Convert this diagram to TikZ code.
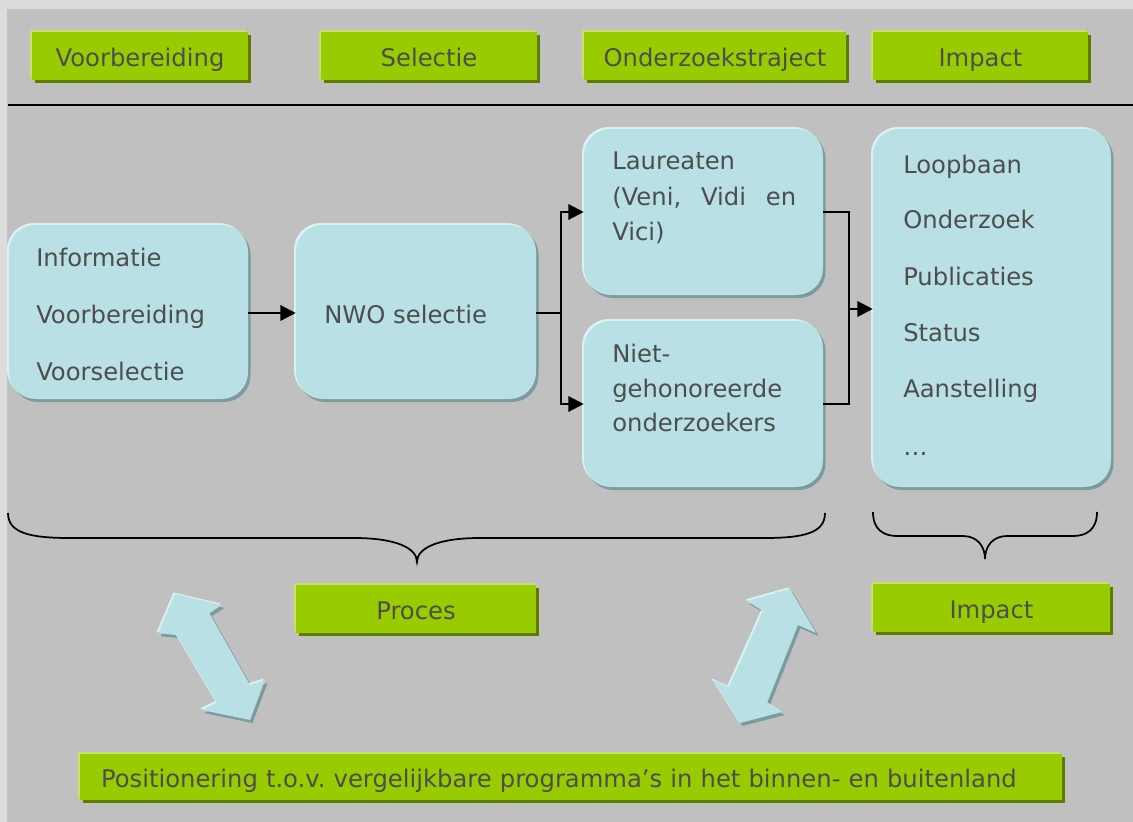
\documentclass[tikz,border=0pt]{standalone}
\usepackage{fontspec}
\setmainfont{DejaVu Sans}
\usetikzlibrary{arrows.meta}
\frenchspacing
\definecolor{bgout}{HTML}{DCDCDC}
\definecolor{bg}{HTML}{C0C0C0}
\definecolor{gmain}{HTML}{99CC00}
\definecolor{glight}{HTML}{C4E36E}
\definecolor{gdark}{HTML}{5E7C00}
\definecolor{cmain}{HTML}{B9E0E4}
\definecolor{clight}{HTML}{DAF1F3}
\definecolor{cdark}{HTML}{7B9B9F}
\definecolor{txt}{HTML}{4D4D4D}
\tikzset{
  x=0.75pt, y=-0.75pt,
  lbl/.style={font=\fontsize{18.2}{21}\selectfont, text=txt, inner sep=0pt},
  gbox/.style={lbl, fill=gmain, text height=16pt, text depth=0pt,
    preaction={fill=gdark, transform canvas={shift={(2.25pt,-2.25pt)}}},
    preaction={fill=glight, transform canvas={shift={(-1.5pt,1.5pt)}}}},
  cbox/.style={fill=cmain, rounded corners=20pt, inner sep=0pt,
    preaction={fill=cdark, transform canvas={shift={(1.9pt,-2.25pt)}}},
    preaction={fill=clight, transform canvas={shift={(-1.5pt,1.5pt)}}}},
  dshape/.style={fill=cmain,
    preaction={fill=cdark, transform canvas={shift={(1.9pt,-2.25pt)}}},
    preaction={fill=clight, transform canvas={shift={(-1.2pt,1.2pt)}}}},
  conn/.style={draw=black, line width=1.7pt},
  arr/.style={conn, -{Triangle[length=11.5pt,width=11.5pt]}},
  brace/.style={draw=black, line width=1.3pt},
}
\begin{document}
\begin{tikzpicture}
\useasboundingbox (0,0) rectangle (1133,822);
\fill[bgout] (0,0) rectangle (1133,822);
\fill[bg] (7,9) rectangle (1133,822);

% header boxes
\node[gbox, minimum width=216*0.75pt, minimum height=48*0.75pt] (h1) at (140,56) {Voorbereiding};
\node[gbox, minimum width=216*0.75pt, minimum height=48*0.75pt] (h2) at (429,56) {Selectie};
\node[gbox, minimum width=262*0.75pt, minimum height=48*0.75pt] (h3) at (715,56) {Onderzoekstraject};
\node[gbox, minimum width=215*0.75pt, minimum height=48*0.75pt] (h4) at (980.5,56) {Impact};
\draw[line width=1.6pt] (8,105) -- (1133,105);

% process boxes
\node[cbox, minimum width=239*0.75pt, minimum height=174*0.75pt] (A) at (128.5,312) {};
\node[cbox, minimum width=240*0.75pt, minimum height=174*0.75pt] (B) at (416,312) {};
\node[cbox, minimum width=239*0.75pt, minimum height=166*0.75pt] (C) at (703.5,212) {};
\node[cbox, minimum width=239*0.75pt, minimum height=166*0.75pt] (D) at (703.5,404) {};
\node[cbox, minimum width=238*0.75pt, minimum height=358*0.75pt] (E) at (992,308) {};

% texts
\node[lbl, anchor=base west] (a1) at (36,266.7) {Informatie};
\node[lbl, anchor=base west] (a2) at (36,323.5) {Voorbereiding};
\node[lbl, anchor=base west] (a3) at (36,380) {Voorselectie};
\node[lbl, anchor=base west] (b1) at (324,323) {NWO selectie};
\node[lbl, anchor=base west] (c1) at (612,169) {Laureaten};
\node[lbl, anchor=base west] (c2) at (612,205) {\makebox[138pt][s]{(Veni, Vidi en}};
\node[lbl, anchor=base west] (c3) at (612,240) {Vici)};
\node[lbl, anchor=base west] (d1) at (612,362) {Niet-};
\node[lbl, anchor=base west] (d2) at (612,397) {gehonoreerde};
\node[lbl, anchor=base west] (d3) at (612,431) {onderzoekers};
\node[lbl, anchor=base west] (e1) at (903,173.3) {Loopbaan};
\node[lbl, anchor=base west] (e2) at (903,228.8) {Onderzoek};
\node[lbl, anchor=base west] (e3) at (903,285) {Publicaties};
\node[lbl, anchor=base west] (e4) at (903,341) {Status};
\node[lbl, anchor=base west] (e5) at (903,397) {Aanstelling};
\node[lbl, anchor=base west] (e6) at (903,455) {…};

% connectors
\draw[arr] (A.east |- 0,313) -- (B.west |- 0,313);
\coordinate (j1) at (561,313);
\draw[conn] (B.east |- j1) -- (j1);
\draw[arr] (j1) -- (j1 |- C.west) -- (C.west);
\draw[arr] (j1) -- (j1 |- D.west) -- (D.west);
\coordinate (j2) at (849,309);
\draw[conn] (C.east) -- (j2 |- C.east) -- (j2 |- D.east) -- (D.east);
\draw[arr] (j2) -- (E.west |- j2);

% braces
\draw[brace] (8,513) .. controls (8,533) and (30,538) .. (70,538) -- (354,538)
  .. controls (396,538) and (417,548) .. (417,562)
  .. controls (417,548) and (438,538) .. (480,538) -- (764,538)
  .. controls (804,538) and (825,533) .. (825,513);
\draw[brace] (873,512) .. controls (873,530) and (884,536) .. (897,536) -- (963,536)
  .. controls (977,536) and (985,546) .. (985,559)
  .. controls (985,546) and (993,536) .. (1007,536) -- (1073,536)
  .. controls (1086,536) and (1097,530) .. (1097,512);

% bottom green boxes
\node[gbox, minimum width=240*0.75pt, minimum height=48*0.75pt] (p1) at (416,608.5) {Proces};
\node[gbox, minimum width=237*0.75pt, minimum height=48*0.75pt] (p2) at (991.5,608) {Impact};
\node[gbox, minimum height=46*0.75pt, inner xsep=15.75pt, text width=705pt, align=left] (pos) at (571,777)
  {Positionering t.o.v. vergelijkbare programma’s in het binnen- en buitenland};

% double arrows
\path[dshape] (175,594) -- (221.7,605) -- (209.3,613.3) -- (250,685) -- (265,680)
  -- (250,720) -- (201.7,710) -- (216.7,702.7) -- (176.7,635) -- (158.3,633.3) -- cycle;
\path[dshape] (790,589) -- (816,633) -- (798,625) -- (767,703) -- (782,712)
  -- (740,723) -- (713,680) -- (729,687) -- (763,611) -- (747,601) -- cycle;
\end{tikzpicture}
\end{document}
